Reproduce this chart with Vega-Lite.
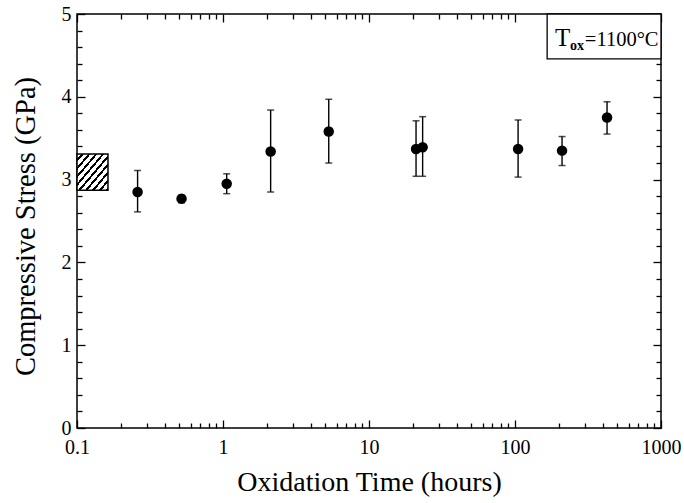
{
  "$schema": "https://vega.github.io/schema/vega-lite/v6.json",
  "width": 584,
  "height": 414,
  "autosize": {"type": "none"},
  "padding": {"left": 77, "top": 14, "right": 23, "bottom": 75},
  "background": "white",
  "config": {
    "view": {"stroke": "black", "strokeWidth": 1.5},
    "font": "Liberation Serif",
    "axis": {"labelFont": "Liberation Serif", "titleFont": "Liberation Serif", "labelColor": "black", "titleColor": "black", "tickColor": "black", "domain": false, "grid": false, "titleFontWeight": "normal"}
  },
  "datasets": {
    "points": [
      {"t": 0.26, "s": 2.85, "lo": 2.61, "hi": 3.11},
      {"t": 0.52, "s": 2.77, "lo": 2.72, "hi": 2.81},
      {"t": 1.06, "s": 2.95, "lo": 2.83, "hi": 3.07},
      {"t": 2.12, "s": 3.34, "lo": 2.85, "hi": 3.84},
      {"t": 5.3, "s": 3.58, "lo": 3.2, "hi": 3.97},
      {"t": 21, "s": 3.37, "lo": 3.04, "hi": 3.71},
      {"t": 23.3, "s": 3.39, "lo": 3.04, "hi": 3.76},
      {"t": 105, "s": 3.37, "lo": 3.03, "hi": 3.72},
      {"t": 210, "s": 3.35, "lo": 3.17, "hi": 3.52},
      {"t": 427, "s": 3.75, "lo": 3.55, "hi": 3.94}
    ],
    "hatch": [{"t0": 0.1, "t1": 0.163, "s0": 2.87, "s1": 3.31}],
    "box": [{"t0": 166, "t1": 1000, "s0": 4.457, "s1": 5}],
    "notes": [
      {"t": 188, "s": 4.617, "txt": "T", "kind": "big"},
      {"t": 238, "s": 4.565, "txt": "ox", "kind": "sub"},
      {"t": 301, "s": 4.617, "txt": "=1100°C", "kind": "main"}
    ]
  },
  "layer": [
    {
      "data": {"name": "hatch"},
      "mark": {"type": "rect", "stroke": "black", "strokeWidth": 1.5,
        "fill": {"gradient": "linear", "x1": 0, "y1": 0, "x2": 1, "y2": 1, "stops": [
          {"offset": 0, "color": "white"}, {"offset": 0.07, "color": "white"}, {"offset": 0.07, "color": "black"}, {"offset": 0.111, "color": "black"},
          {"offset": 0.111, "color": "white"}, {"offset": 0.181, "color": "white"}, {"offset": 0.181, "color": "black"}, {"offset": 0.222, "color": "black"},
          {"offset": 0.222, "color": "white"}, {"offset": 0.292, "color": "white"}, {"offset": 0.292, "color": "black"}, {"offset": 0.333, "color": "black"},
          {"offset": 0.333, "color": "white"}, {"offset": 0.403, "color": "white"}, {"offset": 0.403, "color": "black"}, {"offset": 0.444, "color": "black"},
          {"offset": 0.444, "color": "white"}, {"offset": 0.514, "color": "white"}, {"offset": 0.514, "color": "black"}, {"offset": 0.556, "color": "black"},
          {"offset": 0.556, "color": "white"}, {"offset": 0.626, "color": "white"}, {"offset": 0.626, "color": "black"}, {"offset": 0.667, "color": "black"},
          {"offset": 0.667, "color": "white"}, {"offset": 0.737, "color": "white"}, {"offset": 0.737, "color": "black"}, {"offset": 0.778, "color": "black"},
          {"offset": 0.778, "color": "white"}, {"offset": 0.848, "color": "white"}, {"offset": 0.848, "color": "black"}, {"offset": 0.889, "color": "black"},
          {"offset": 0.889, "color": "white"}, {"offset": 0.959, "color": "white"}, {"offset": 0.959, "color": "black"}, {"offset": 1, "color": "black"}
        ]}},
      "encoding": {
        "x": {"field": "t0", "type": "quantitative",
          "scale": {"type": "log", "domain": [0.1, 1000], "nice": false},
          "axis": {"orient": "bottom", "title": "Oxidation Time (hours)", "titleFontSize": 28, "titleBaseline": "alphabetic", "titleY": 62, "labelFontSize": 20, "labelPadding": 17,
            "values": [0.1,0.2,0.3,0.4,0.5,0.6,0.7,0.8,0.9,1,2,3,4,5,6,7,8,9,10,20,30,40,50,60,70,80,90,100,200,300,400,500,600,700,800,900,1000],
            "format": "~g", "labelOverlap": false, "labelFlush": false,
            "labelExpr": "indexof([0.1,1,10,100,1000], datum.value) >= 0 ? datum.label : ''",
            "tickSize": {"condition": {"test": "indexof([0.1,1,10,100,1000], datum.value) >= 0", "value": -8}, "value": -5},
            "tickWidth": 1.3}},
        "x2": {"field": "t1"},
        "y": {"field": "s0", "type": "quantitative",
          "scale": {"domain": [0, 5], "nice": false, "zero": false},
          "axis": {"orient": "left", "title": "Compressive Stress (GPa)", "titleFontSize": 28.5, "titleBaseline": "alphabetic", "titleX": -43, "titleY": 212, "labelFontSize": 20, "labelPadding": 14,
            "values": [0,0.2,0.4,0.6,0.8,1,1.2,1.4,1.6,1.8,2,2.2,2.4,2.6,2.8,3,3.2,3.4,3.6,3.8,4,4.2,4.4,4.6,4.8,5],
            "format": "~g", "labelOverlap": false, "labelFlush": false,
            "labelExpr": "datum.value === round(datum.value) ? datum.label : ''",
            "tickSize": {"condition": {"test": "datum.value === round(datum.value)", "value": -8}, "value": -5},
            "tickWidth": 1.3}},
        "y2": {"field": "s1"}
      }
    },
    {
      "data": {"name": "points"},
      "mark": {"type": "rule", "color": "black", "strokeWidth": 1.4},
      "encoding": {
        "x": {"field": "t", "type": "quantitative",
          "axis": {"orient": "top", "title": null, "labels": false,
            "values": [0.1,0.2,0.3,0.4,0.5,0.6,0.7,0.8,0.9,1,2,3,4,5,6,7,8,9,10,20,30,40,50,60,70,80,90,100,200,300,400,500,600,700,800,900,1000],
            "tickSize": {"condition": {"test": "indexof([0.1,1,10,100,1000], datum.value) >= 0", "value": -8}, "value": -5},
            "tickWidth": 1.3}},
        "y": {"field": "lo", "type": "quantitative",
          "axis": {"orient": "right", "title": null, "labels": false,
            "values": [0,0.2,0.4,0.6,0.8,1,1.2,1.4,1.6,1.8,2,2.2,2.4,2.6,2.8,3,3.2,3.4,3.6,3.8,4,4.2,4.4,4.6,4.8,5],
            "tickSize": {"condition": {"test": "datum.value === round(datum.value)", "value": -8}, "value": -5},
            "tickWidth": 1.3}},
        "y2": {"field": "hi"}
      }
    },
    {
      "data": {"name": "points"},
      "mark": {"type": "tick", "orient": "horizontal", "color": "black", "size": 7, "thickness": 1.5},
      "encoding": {
        "x": {"field": "t", "type": "quantitative", "axis": null},
        "y": {"field": "lo", "type": "quantitative", "axis": null}
      }
    },
    {
      "data": {"name": "points"},
      "mark": {"type": "tick", "orient": "horizontal", "color": "black", "size": 7, "thickness": 1.5},
      "encoding": {
        "x": {"field": "t", "type": "quantitative", "axis": null},
        "y": {"field": "hi", "type": "quantitative", "axis": null}
      }
    },
    {
      "data": {"name": "points"},
      "mark": {"type": "circle", "color": "black", "opacity": 1, "size": 110},
      "encoding": {
        "x": {"field": "t", "type": "quantitative", "axis": null},
        "y": {"field": "s", "type": "quantitative", "axis": null}
      }
    },
    {
      "data": {"name": "box"},
      "mark": {"type": "rect", "fill": "white", "stroke": "black", "strokeWidth": 1.3},
      "encoding": {
        "x": {"field": "t0", "type": "quantitative", "axis": null},
        "x2": {"field": "t1"},
        "y": {"field": "s0", "type": "quantitative", "axis": null},
        "y2": {"field": "s1"}
      }
    },
    {
      "data": {"name": "notes"},
      "transform": [{"filter": "datum.kind === 'big'"}],
      "mark": {"type": "text", "align": "left", "baseline": "alphabetic", "font": "Liberation Serif", "fontSize": 25, "color": "black"},
      "encoding": {
        "x": {"field": "t", "type": "quantitative", "axis": null},
        "y": {"field": "s", "type": "quantitative", "axis": null},
        "text": {"field": "txt"}
      }
    },
    {
      "data": {"name": "notes"},
      "transform": [{"filter": "datum.kind === 'main'"}],
      "mark": {"type": "text", "align": "left", "baseline": "alphabetic", "font": "Liberation Serif", "fontSize": 20.5, "color": "black"},
      "encoding": {
        "x": {"field": "t", "type": "quantitative", "axis": null},
        "y": {"field": "s", "type": "quantitative", "axis": null},
        "text": {"field": "txt"}
      }
    },
    {
      "data": {"name": "notes"},
      "transform": [{"filter": "datum.kind === 'sub'"}],
      "mark": {"type": "text", "align": "left", "baseline": "alphabetic", "font": "Liberation Serif", "fontSize": 14, "fontWeight": "bold", "color": "black"},
      "encoding": {
        "x": {"field": "t", "type": "quantitative", "axis": null},
        "y": {"field": "s", "type": "quantitative", "axis": null},
        "text": {"field": "txt"}
      }
    }
  ],
  "resolve": {"axis": {"x": "independent", "y": "independent"}}
}
